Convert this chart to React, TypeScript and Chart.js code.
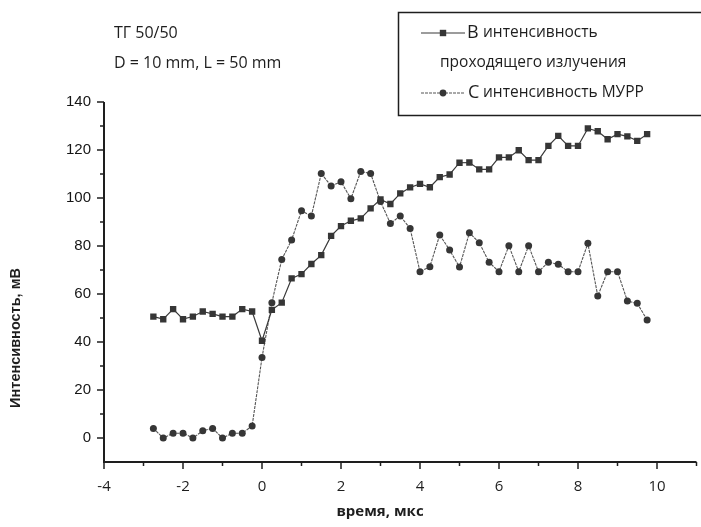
import React, { useEffect, useRef } from "react";
import { Chart, registerables } from "chart.js";

Chart.register(...registerables);

// time axis, µs
const timeUs = [
  -2.75, -2.5, -2.25, -2.0, -1.75, -1.5, -1.25, -1.0, -0.75, -0.5, -0.25,
  0.0, 0.25, 0.5, 0.75, 1.0, 1.25, 1.5, 1.75, 2.0, 2.25, 2.5, 2.75,
  3.0, 3.25, 3.5, 3.75, 4.0, 4.25, 4.5, 4.75, 5.0, 5.25, 5.5, 5.75,
  6.0, 6.25, 6.5, 6.75, 7.0, 7.25, 7.5, 7.75, 8.0, 8.25, 8.5, 8.75,
  9.0, 9.25, 9.5, 9.75,
];

// B: интенсивность проходящего излучения, мВ
const seriesB = [
  50.6, 49.5, 53.7, 49.5, 50.6, 52.7, 51.7, 50.6, 50.6, 53.7, 52.7,
  40.5, 53.4, 56.4, 66.5, 68.3, 72.5, 76.2, 84.2, 88.3, 90.5, 91.5, 95.7,
  99.4, 97.5, 101.9, 104.4, 105.9, 104.5, 108.7, 109.8, 114.7, 114.8, 111.9, 111.9,
  116.9, 116.9, 119.9, 115.8, 115.8, 121.7, 125.9, 121.7, 121.7, 129.0, 127.8, 124.5,
  126.6, 125.7, 123.8, 126.6,
];

// C: интенсивность МУРР, мВ
const seriesC = [
  4, 0, 2, 2, 0, 3, 4, 0, 2, 2, 5,
  33.5, 56.4, 74.4, 82.5, 94.7, 92.5, 110.2, 105.0, 106.8, 99.7, 111.0, 110.2,
  98.5, 89.4, 92.5, 87.3, 69.3, 71.4, 84.6, 78.3, 71.2, 85.5, 81.4, 73.2,
  69.3, 80.1, 69.3, 80.1, 69.3, 73.2, 72.4, 69.3, 69.3, 81.1, 59.2, 69.3,
  69.3, 57.1, 56.1, 49.2,
];

const xTickLabels = [-4, -2, 0, 2, 4, 6, 8, 10];
const yTickLabels = [0, 20, 40, 60, 80, 100, 120, 140];

const xAxisTitle = "время, мкс";
const yAxisTitle = "Интенсивность, мВ";
const noteLines = ["ТГ 50/50", "D = 10 mm, L = 50 mm"];
const legendB = { letter: "B", lines: ["интенсивность", "проходящего излучения"] };
const legendC = { letter: "C", lines: ["интенсивность МУРР"] };

const INK = "#1e1e1e";
const LINE_B = "#3a3a3a";
const LINE_C = "#555555";
const MARK = "#363636";
const TEXT_FONT = '"Open Sans", "DejaVu Sans", sans-serif';
const NUM_FONT = '"Liberation Sans", Arial, sans-serif';

const decorations = {
  id: "decorations",
  afterDraw(chart: any) {
    const { ctx, chartArea: a, scales } = chart;
    const xs = scales.x;
    const ys = scales.y;
    ctx.save();

    // axes
    ctx.strokeStyle = INK;
    ctx.lineWidth = 2;
    ctx.beginPath();
    ctx.moveTo(a.left, a.top);
    ctx.lineTo(a.left, a.bottom);
    ctx.lineTo(a.right, a.bottom);
    ctx.stroke();

    // ticks
    ctx.lineWidth = 1.5;
    ys.ticks.forEach((t: any) => {
      if (t.value < 0) return;
      const y = ys.getPixelForValue(t.value);
      const major = yTickLabels.includes(t.value);
      ctx.beginPath();
      ctx.moveTo(a.left, y);
      ctx.lineTo(a.left - (major ? 7 : 4), y);
      ctx.stroke();
    });
    xs.ticks.forEach((t: any) => {
      const x = xs.getPixelForValue(t.value);
      const major = xTickLabels.includes(t.value);
      ctx.beginPath();
      ctx.moveTo(x, a.bottom);
      ctx.lineTo(x, a.bottom + (major ? 7 : 4));
      ctx.stroke();
    });

    // axis titles
    ctx.fillStyle = INK;
    ctx.textAlign = "center";
    ctx.textBaseline = "middle";
    ctx.font = `bold 15px ${TEXT_FONT}`;
    ctx.fillText(xAxisTitle, 380, 512);
    ctx.save();
    ctx.translate(16, 338);
    ctx.rotate(-Math.PI / 2);
    ctx.font = `bold 14.5px ${NUM_FONT}`;
    ctx.fillText(yAxisTitle, 0, 0);
    ctx.restore();

    // notes
    ctx.textAlign = "left";
    ctx.font = `16px ${TEXT_FONT}`;
    ctx.fillText(noteLines[0], 114, 33);
    ctx.fillText(noteLines[1], 114, 63);

    // legend box
    ctx.lineWidth = 1.5;
    ctx.strokeStyle = INK;
    ctx.strokeRect(398.5, 12.5, 320, 103);

    const drawEntry = (y: number, style: "rect" | "circle", color: string, dash: number[]) => {
      ctx.save();
      ctx.strokeStyle = color;
      ctx.lineWidth = 1.2;
      ctx.setLineDash(dash);
      ctx.beginPath();
      ctx.moveTo(421, y);
      ctx.lineTo(465, y);
      ctx.stroke();
      ctx.restore();
      ctx.fillStyle = MARK;
      if (style === "rect") {
        ctx.fillRect(443 - 3.2, y - 3.2, 6.4, 6.4);
      } else {
        ctx.beginPath();
        ctx.arc(443, y, 3.4, 0, Math.PI * 2);
        ctx.fill();
      }
    };
    drawEntry(33, "rect", LINE_B, []);
    drawEntry(93, "circle", LINE_C, [3, 1]);

    ctx.fillStyle = INK;
    ctx.font = `18px ${TEXT_FONT}`;
    ctx.fillText(legendB.letter, 467, 33);
    ctx.fillText(legendC.letter, 468, 93);
    ctx.font = `15.5px ${TEXT_FONT}`;
    ctx.fillText(legendB.lines[0], 483, 33);
    ctx.fillText(legendB.lines[1], 440, 63);
    ctx.fillText(legendC.lines[0], 483, 93);

    ctx.restore();
  },
};

export default function App() {
  const canvasRef = useRef<HTMLCanvasElement | null>(null);

  useEffect(() => {
    const canvas = canvasRef.current;
    if (!canvas) return;
    const chart = new Chart(canvas, {
      type: "line",
      data: {
        datasets: [
          {
            label: "B интенсивность проходящего излучения",
            data: timeUs.map((x, i) => ({ x, y: seriesB[i] })),
            borderColor: LINE_B,
            borderWidth: 1.2,
            pointStyle: "rect",
            pointRadius: 4.5,
            pointBackgroundColor: MARK,
            pointBorderColor: MARK,
            pointBorderWidth: 0,
            tension: 0,
          },
          {
            label: "C интенсивность МУРР",
            data: timeUs.map((x, i) => ({ x, y: seriesC[i] })),
            borderColor: LINE_C,
            borderWidth: 1.1,
            borderDash: [3, 1],
            pointStyle: "circle",
            pointRadius: 3.5,
            pointBackgroundColor: MARK,
            pointBorderColor: MARK,
            pointBorderWidth: 0,
            tension: 0,
          },
        ],
      },
      options: {
        responsive: false,
        animation: false,
        events: [],
        layout: { padding: { left: 0, right: 4, top: 102, bottom: 0 } },
        plugins: {
          legend: { display: false },
          tooltip: { enabled: false },
        },
        scales: {
          x: {
            type: "linear",
            min: -4,
            max: 11,
            grid: { display: false, drawTicks: false },
            border: { display: false },
            ticks: {
              stepSize: 1,
              autoSkip: false,
              maxRotation: 0,
              padding: 16,
              color: INK,
              font: { family: TEXT_FONT, size: 15 },
              callback: (v: any) => (xTickLabels.includes(Number(v)) ? String(v) : ""),
            },
            afterFit: (s: any) => {
              s.height = 65;
              s.paddingLeft = 0;
              s.paddingRight = 0;
            },
          },
          y: {
            type: "linear",
            min: -10,
            max: 140,
            grid: { display: false, drawTicks: false },
            border: { display: false },
            ticks: {
              stepSize: 10,
              autoSkip: false,
              padding: 13,
              color: "#151515",
              font: { family: NUM_FONT, size: 15 },
              callback: (v: any) => (yTickLabels.includes(Number(v)) ? String(v) : ""),
            },
            afterFit: (s: any) => {
              s.width = 104;
              s.paddingTop = 0;
              s.paddingBottom = 0;
            },
          },
        },
      },
      plugins: [decorations],
    });
    return () => chart.destroy();
  }, []);

  return (
    <div style={{ position: "absolute", left: 0, top: 0, width: 701, height: 527, background: "#ffffff" }}>
      <canvas ref={canvasRef} width={701} height={527} style={{ display: "block" }} />
    </div>
  );
}
